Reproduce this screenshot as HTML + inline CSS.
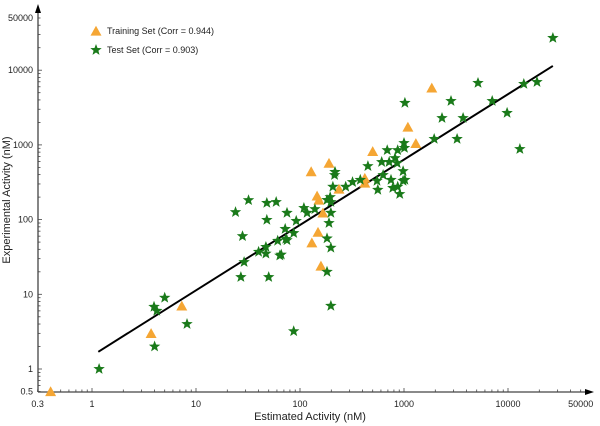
<!DOCTYPE html>
<html><head><meta charset="utf-8"><style>
body{margin:0;background:#fff;}
svg{display:block;font-family:"Liberation Sans",sans-serif;}
</style></head><body>
<svg id="chart" width="600" height="426"></svg>
<script>
const yTickLabels=["0.5","1","10","100","1000","10000","50000"];
const yTickValues=[0.5,1,10,100,1000,10000,50000];
const xTickLabels=["0.3","1","10","100","1000","10000","50000"];
const xTickValues=[0.3,1,10,100,1000,10000,50000];
const trainX=[1850,1090,1300,500,190,128,420,420,237,146,152,166,149,130,159,0.4,3.7,7.3];
const trainY=[5800,1740,1050,820,570,440,360,309,257,208,183,123,68,49,24,0.5,3.0,7.0];
const testX=[27000,5150,14200,19000,2830,7050,1020,9800,2320,3700,1950,3240,13000,1000,1010,690,870,610,720,820,450,860,630,980,550,750,980,1020,560,780,910,870,380,320,275,217,215,207,195,182,198,198,190,182,198,182,198,87,139,109,117,92,75,72,87,73,66,1.17,4.0,3.95,4.2,5.0,8.2,24,32,28,29,27,48,59,48,50,40,47,47,64,61,75];
const testY=[27000,6750,6540,6950,3870,3870,3650,2680,2290,2290,1200,1200,880,1060,910,850,850,590,590,665,520,570,395,445,330,340,330,340,250,265,220,275,340,318,275,435,395,275,200,183,172,123,90,56,42,20,7.0,3.2,138,143,123,96,123,75,66,55,34,1.0,2.0,6.8,6.0,9.0,4.0,126,182,60,27,17,167,172,99,17,37,43,35,33,52,53];
const lineX=[1.15,27000];
const lineY=[1.7,11400];

const NS="http://www.w3.org/2000/svg";
const svg=document.getElementById('chart');
function X(v){return 92+104*Math.log10(v);}
function Y(v){return 369-74.7*Math.log10(v);}
function mk(t,a,p){const e=document.createElementNS(NS,t);for(const k in a)e.setAttribute(k,a[k]);(p||svg).appendChild(e);return e;}
const ax=38, ay=392;
// axes
let e=mk('line',{x1:ax,y1:ay,x2:ax,y2:12,stroke:'#444','stroke-width':1.3});


e=mk('line',{x1:ax,y1:ay,x2:586,y2:ay,stroke:'#444','stroke-width':1.3});


e=mk('polygon',{points:`${ax-3},13 ${ax+3},13 ${ax},4`,fill:'#000'});


e=mk('polygon',{points:`585,${ay-3} 585,${ay+3} 594,${ay}`,fill:'#000'});


// minor ticks
for(let d=-1;d<=4;d++){for(let m=1;m<10;m++){const v=m*Math.pow(10,d);
 if(v>=0.3&&v<=50000){const x=X(v);mk('line',{x1:x,y1:ay,x2:x,y2:ay-(m==1?4:2.5),stroke:'#444','stroke-width':0.8});}
 if(v>=0.5&&v<=50000){const y=Y(v);mk('line',{x1:ax,y1:y,x2:ax+(m==1?4:2.5),y2:y,stroke:'#444','stroke-width':0.8});}
}}
yTickValues.forEach((v,i)=>{const t=mk('text',{x:33,y:Y(v)+3,'text-anchor':'end','font-size':9,fill:'#222'});t.textContent=yTickLabels[i];
 
 });
xTickValues.forEach((v,i)=>{const t=mk('text',{x:X(v),y:407,'text-anchor':'middle','font-size':9,fill:'#222'});t.textContent=xTickLabels[i];
 
 });
e=mk('text',{x:310,y:420,'text-anchor':'middle','font-size':11,fill:'#222'});e.textContent='Estimated Activity (nM)';


e=mk('text',{x:0,y:0,'text-anchor':'middle','font-size':11,fill:'#222',transform:'translate(10,200) rotate(-90)'});e.textContent='Experimental Activity (nM)';


// regression
e=mk('line',{x1:X(lineX[0]),y1:Y(lineY[0]),x2:X(lineX[1]),y2:Y(lineY[1]),stroke:'#000','stroke-width':2});


function star(cx,cy,r){let p=[];for(let i=0;i<10;i++){const rr=i%2?r*0.42:r;const a=-Math.PI/2+i*Math.PI/5;p.push((cx+rr*Math.cos(a)).toFixed(1)+','+(cy+rr*Math.sin(a)).toFixed(1));}return p.join(' ');}
function tri(cx,cy,s){return `${cx-s},${cy+s*0.85} ${cx+s},${cy+s*0.85} ${cx},${cy-s*0.95}`;}
trainX.forEach((v,i)=>{const p=mk('polygon',{points:tri(X(v),Y(trainY[i]),5.5),fill:'#f5a634'});
 
 });
testX.forEach((v,i)=>{const p=mk('polygon',{points:star(X(v),Y(testY[i]),6),fill:'#1a7a1a'});
 
 });
// legend
e=mk('polygon',{points:tri(96,31,5.5),fill:'#f5a634'});


e=mk('text',{x:107,y:34,'font-size':9,fill:'#222'});e.textContent='Training Set (Corr = 0.944)';


e=mk('polygon',{points:star(96,50,6),fill:'#1a7a1a'});


e=mk('text',{x:107,y:53,'font-size':9,fill:'#222'});e.textContent='Test Set (Corr = 0.903)';


</script>
</body></html>
